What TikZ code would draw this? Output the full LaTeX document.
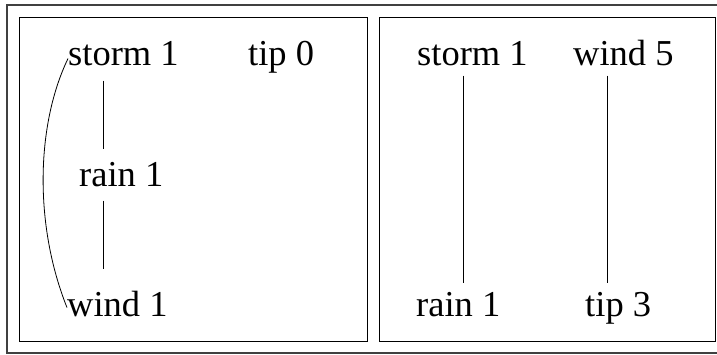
\documentclass[tikz,border=0pt]{standalone}
\usepackage{fontspec}
\setmainfont{Liberation Serif}
\begin{document}
\begin{tikzpicture}[x=1pt,y=-1pt,
  word/.style={inner sep=0pt,anchor=base west,font=\fontsize{36.5}{40}\selectfont},
  frame/.style={line width=1pt},
  outerframe/.style={line width=1.2pt,draw=black!75},
  link/.style={line width=0.8pt}]
\useasboundingbox (0,0) rectangle (717,354);
\clip (0,0) rectangle (717,354);
% outer frame and the two panels
\draw[outerframe] (7,5) rectangle (727,353);
\draw[frame] (19,17) rectangle (367,341);
\draw[frame] (379,17) rectangle (715,341);
% left panel
\node[word] (ls) at (68,65) {storm 1};
\node[word] (lt) at (248,65) {tip 0};
\node[word] (lr) at (79,186) {rain 1};
\node[word] (lw) at (67,316) {wind 1};
\draw[link] ([xshift=35pt,yshift=-15pt]ls.south west) -- ([xshift=24pt,yshift=13pt]lr.north west);
\draw[link] ([xshift=24pt,yshift=-14pt]lr.south west) -- ([xshift=36pt,yshift=21pt]lw.north west);
\draw[link] ([yshift=7pt]ls.south west) .. controls (36,125) and (34,225) .. ([yshift=9pt]lw.south west);
% right panel
\node[word] (rs) at (417,65) {storm 1};
\node[word] (rw) at (573,65) {wind 5};
\node[word] (rr) at (416,316) {rain 1};
\node[word] (rt) at (585,316) {tip 3};
\draw[link] ([xshift=46pt,yshift=-10pt]rs.south west) -- ([xshift=47pt,yshift=9pt]rr.north west);
\draw[link] ([xshift=34pt,yshift=-10pt]rw.south west) -- ([xshift=22pt,yshift=9pt]rt.north west);
\end{tikzpicture}
\end{document}
